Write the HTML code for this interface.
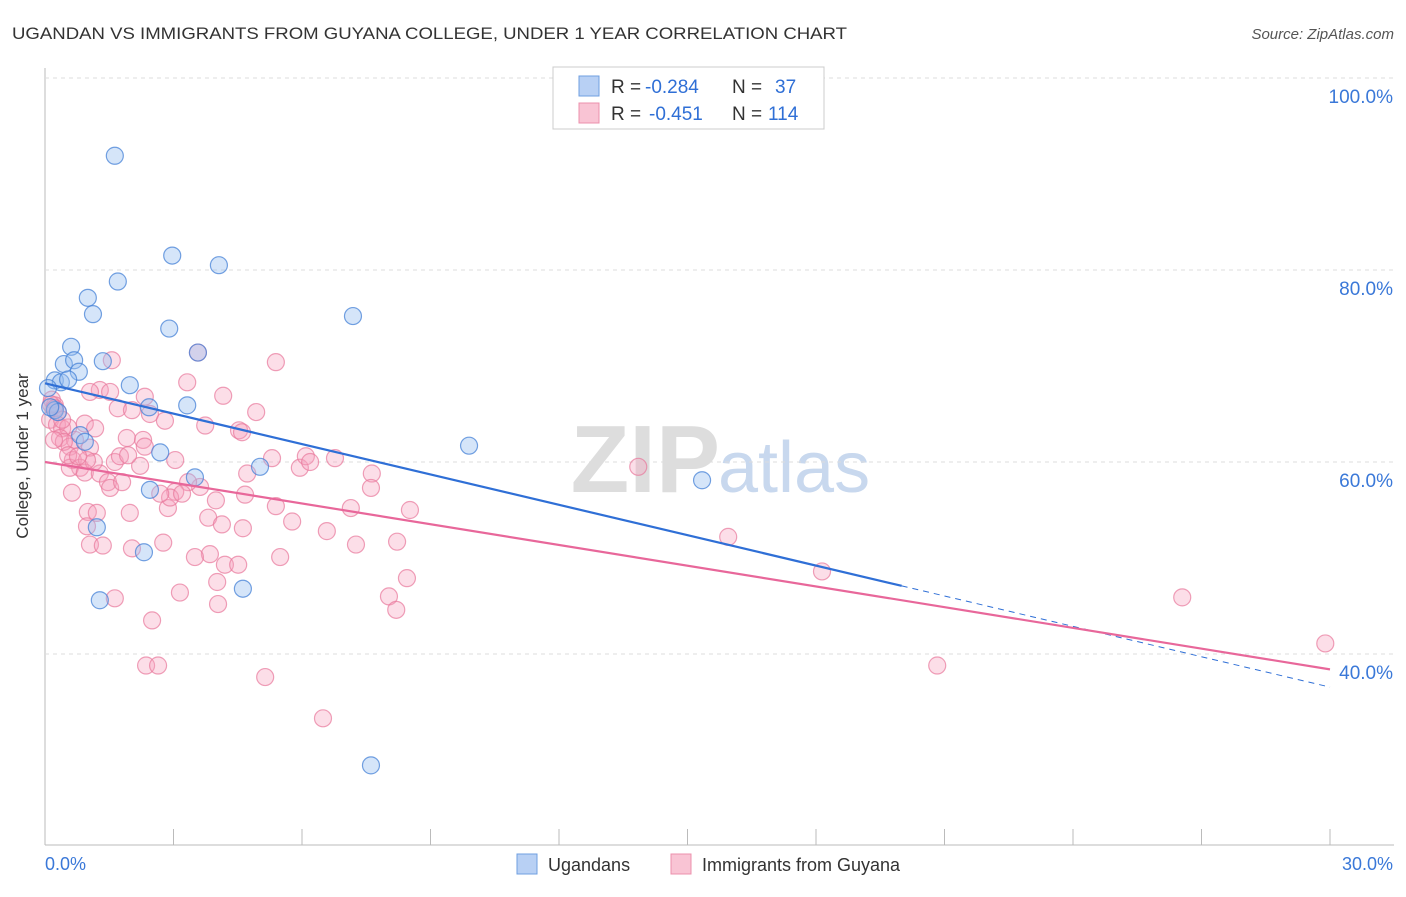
<!DOCTYPE html>
<html><head><meta charset="utf-8"><style>
body{margin:0;background:#fff;font-family:"Liberation Sans",sans-serif;}
svg text{font-family:"Liberation Sans",sans-serif;}
</style></head><body>
<svg id="c" width="1406" height="892" xmlns="http://www.w3.org/2000/svg">
<text x="12" y="39" font-size="17" fill="#333" textLength="835" lengthAdjust="spacingAndGlyphs">UGANDAN VS IMMIGRANTS FROM GUYANA COLLEGE, UNDER 1 YEAR CORRELATION CHART</text>
<text x="1394" y="39" font-size="15" fill="#555" font-style="italic" text-anchor="end">Source: ZipAtlas.com</text>
<text x="720" y="492" font-size="96" font-weight="bold" fill="#ddd" text-anchor="end" font-family="Liberation Serif">ZIP</text>
<text x="718" y="492" font-size="72" fill="#c8d8ee">atlas</text>
<text x="28" y="456" font-size="17" fill="#333" text-anchor="middle" transform="rotate(-90 28 456)">College, Under 1 year</text>
<g id="grid"></g><g id="pts"></g><g id="lines"></g>
<rect x="553" y="67" width="271" height="62" fill="#fff" stroke="#ccc"/>
<rect x="579" y="76" width="20" height="20" fill="#b8d0f4" stroke="#6f9fe0"/>
<rect x="579" y="103" width="20" height="20" fill="#f9c4d4" stroke="#ec90ac"/>
<g font-size="19">
<text x="611" y="93" fill="#333">R =</text><text x="645" y="93" fill="#2f6fd6">-0.284</text><text x="732" y="93" fill="#333">N =</text><text x="775" y="93" fill="#2f6fd6">37</text>
<text x="611" y="120" fill="#333">R =</text><text x="649" y="120" fill="#2f6fd6">-0.451</text><text x="732" y="120" fill="#333">N =</text><text x="768" y="120" fill="#2f6fd6">114</text>
</g>
<rect x="517" y="854" width="20" height="20" fill="#b8d0f4" stroke="#6f9fe0"/>
<text x="548" y="871" font-size="18" fill="#333">Ugandans</text>
<rect x="671" y="854" width="20" height="20" fill="#f9c4d4" stroke="#ec90ac"/>
<text x="702" y="871" font-size="18" fill="#333">Immigrants from Guyana</text>
</svg>
<script>
const xTicks=[0,30];
const yTicks=[40,60,80,100];
const blueX=[1.63,2.97,4.06,1.70,1.00,1.12,7.19,2.90,3.57,0.61,0.44,0.68,1.35,0.79,0.23,0.37,0.54,1.98,0.07,0.23,0.30,3.32,2.43,0.82,2.69,9.90,3.50,5.02,15.34,2.45,1.21,2.31,1.28,4.62,7.61,0.12,0.93];
const blueY=[91.9,81.5,80.5,78.8,77.1,75.4,75.2,73.9,71.4,72.0,70.2,70.6,70.5,69.4,68.5,68.3,68.6,68.0,67.7,65.4,65.2,65.9,65.7,62.8,61.0,61.7,58.4,59.5,58.1,57.1,53.2,50.6,45.6,46.8,28.4,65.7,62.1];
const pinkX=[1.56,5.39,3.57,3.32,1.28,4.16,2.33,1.70,4.93,2.45,0.16,0.23,0.30,0.12,0.28,0.40,0.54,0.93,1.17,0.35,0.70,1.05,0.58,0.65,0.82,0.58,0.93,1.28,1.63,1.75,1.91,2.29,1.47,1.52,1.80,2.22,3.04,3.74,4.53,4.60,5.30,5.95,6.09,6.19,6.77,7.63,7.61,8.52,4.72,4.67,3.99,3.62,3.34,3.04,2.87,2.92,3.81,4.13,5.39,5.77,6.58,7.14,7.26,8.22,8.45,8.03,8.20,5.49,3.85,4.20,4.51,4.02,4.04,3.15,2.50,2.36,2.64,5.14,6.49,2.03,2.76,1.00,1.21,1.98,0.98,1.05,1.35,1.63,0.63,1.14,0.44,0.21,0.14,0.23,0.40,0.98,13.85,15.95,18.14,20.83,26.55,29.89,2.03,2.80,2.33,1.05,2.69,3.20,4.62,0.54,0.77,1.94,1.52,3.50];
const pinkY=[70.6,70.4,71.4,68.3,67.5,66.9,66.8,65.6,65.2,65.0,66.5,65.9,65.2,64.4,63.9,63.5,63.6,64.0,63.5,62.5,62.3,61.5,61.6,60.2,59.4,59.4,58.9,58.8,60.0,60.6,62.5,62.3,57.9,57.3,57.9,59.6,60.2,63.8,63.3,63.1,60.4,59.4,60.6,60.0,60.4,58.8,57.3,55.0,58.8,56.6,56.0,57.4,57.9,56.9,55.2,56.3,54.2,53.5,55.4,53.8,52.8,55.2,51.4,51.7,47.9,46.0,44.6,50.1,50.4,49.3,49.3,47.5,45.2,46.4,43.5,38.8,38.8,37.6,33.3,51.0,51.6,54.8,54.7,54.7,53.3,51.4,51.3,45.8,56.8,60.0,62.1,62.3,66.0,65.6,64.4,60.2,59.5,52.2,48.6,38.8,45.9,41.1,65.4,64.3,61.6,67.3,56.7,56.7,53.1,60.7,60.6,60.7,67.3,50.1];
const blueTrend=[68.2,-1.055];
const pinkTrend=[60.0,-0.72];
const NS='http://www.w3.org/2000/svg';
const sx=v=>45+v*1285/30, sy=v=>78+(100-v)*9.6;
function mk(t,a,p){const e=document.createElementNS(NS,t);for(const k in a)e.setAttribute(k,a[k]);p.appendChild(e);return e;}
const g=document.getElementById('grid');
let ax=mk('line',{x1:45,y1:68,x2:45,y2:845,stroke:'#bbb'},g);


let bx=mk('line',{x1:45,y1:845,x2:1394,y2:845,stroke:'#bbb'},g);


for(let i=1;i<=10;i++){const l=mk('line',{x1:45+i*128.5,x2:45+i*128.5,y1:829,y2:845,stroke:'#bbb'},g);

}
yTicks.forEach(v=>{const l=mk('line',{x1:45,x2:1394,y1:sy(v),y2:sy(v),stroke:'#ddd','stroke-dasharray':'4 4'},g);


const t=mk('text',{x:1393,y:sy(v)+25,'font-size':19,fill:'#3a78d8','text-anchor':'end'},g);t.textContent=v.toFixed(1)+'%';

});
xTicks.forEach((v,i)=>{const t=mk('text',{x:i?1393:45,y:870,'font-size':18,fill:'#3a78d8','text-anchor':i?'end':'start'},g);t.textContent=v.toFixed(1)+'%';

});
const P=document.getElementById('pts');
pinkX.forEach((x,i)=>{const c=mk('circle',{cx:sx(x),cy:sy(pinkY[i]),r:8.5,fill:'rgba(246,160,188,0.35)',stroke:'rgba(232,120,155,0.7)','stroke-width':1.2},P);

});
blueX.forEach((x,i)=>{const c=mk('circle',{cx:sx(x),cy:sy(blueY[i]),r:8.5,fill:'rgba(150,190,240,0.4)',stroke:'rgba(70,130,215,0.75)','stroke-width':1.2},P);

});
const L=document.getElementById('lines');
const by=x=>blueTrend[0]+blueTrend[1]*x, py=x=>pinkTrend[0]+pinkTrend[1]*x;
let l1=mk('line',{x1:sx(0),y1:sy(by(0)),x2:sx(20),y2:sy(by(20)),stroke:'#2f6fd6','stroke-width':2.2},L);


let l2=mk('line',{x1:sx(20),y1:sy(by(20)),x2:sx(30),y2:sy(by(30)),stroke:'#2f6fd6','stroke-width':1,'stroke-dasharray':'6 5'},L);


let l3=mk('line',{x1:sx(0),y1:sy(py(0)),x2:sx(30),y2:sy(py(30)),stroke:'#e8679a','stroke-width':2.2},L);


</script>
</body></html>
